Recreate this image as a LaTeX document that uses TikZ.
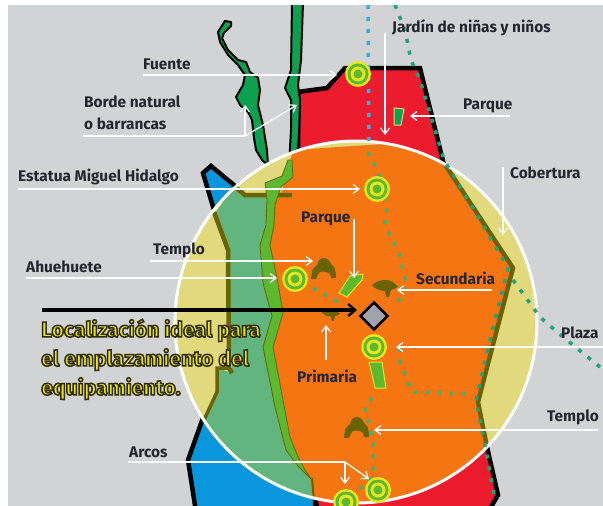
\documentclass[tikz,border=0pt]{standalone}
\usepackage{fontspec}
\setmainfont{Fira Sans}
\usetikzlibrary{arrows.meta}
\definecolor{bg}{HTML}{D1D3D5}
\definecolor{redz}{HTML}{EC1C2E}
\definecolor{orz}{HTML}{F57513}
\definecolor{yel}{HTML}{E2D97C}
\definecolor{teal1}{HTML}{62B57E}
\definecolor{blu}{HTML}{0A96DC}
\definecolor{grn}{HTML}{0DA04E}
\definecolor{lgrn}{HTML}{5CB82E}
\definecolor{oliv}{HTML}{6A6400}
\definecolor{ringy}{HTML}{E6E81E}
\definecolor{dotg}{HTML}{45B06A}
\definecolor{dott}{HTML}{1FA37A}
\definecolor{dotb}{HTML}{35AEE2}
\definecolor{txt}{HTML}{25252F}
\definecolor{dia}{HTML}{A2A2AC}
\tikzset{
 lab/.style={font=\bfseries\fontsize{15.4}{22}\selectfont,text=txt,anchor=west,inner sep=0pt},
 wire/.style={draw=white,line width=1.3pt},
 wirea/.style={wire,-{Straight Barb[length=6pt,width=9pt,line width=1.2pt]}},
 road/.style={draw=dotg,line width=3.5pt,dash pattern=on 4pt off 8pt},
 bound/.style={draw=black,line width=4.5pt,line join=miter},
 olive/.style={draw=oliv,line width=4.5pt,line join=miter},
 marker/.pic={
  \fill[ringy] (0,0) circle (13);
  \fill[lgrn] (0,0) circle (10.5);
  \fill[ringy] (0,0) circle (7.5);
  \fill[lgrn] (0,0) circle (4.5);
 }
}
\newcommand{\temple}[1]{\fill[oliv,shift={#1}] (-12,10) -- (-11,2) .. controls (-9,-2) and (-7,-3) .. (-6,-4) .. controls (-5,-9) and (-2,-11) .. (1,-11) .. controls (4,-11) and (7,-8) .. (8,-5) .. controls (11,-3) and (13,0) .. (13,9) -- (8,9) -- (7,5) .. controls (5,3) and (0,2) .. (-3,3) .. controls (-5,5) and (-6,7) .. (-7,10) -- cycle;}
\newcommand{\treeicon}[2]{\fill[oliv,shift={#1},scale=#2] (-13,-2) .. controls (-8,-6) and (-4,-7) .. (1,-7) .. controls (6,-7) and (10,-4) .. (13,0) .. controls (10,2) and (8,2) .. (6,3) -- (4,10) -- (1,10) -- (0,4) .. controls (-5,4) and (-10,2) .. (-13,-2) -- cycle;}
\begin{document}
\begin{tikzpicture}[x=1pt,y=-1pt]
\useasboundingbox (0,0) rectangle (603,506);
\fill[white] (0,0) rectangle (603,506);
\fill[bg] (8,5) rectangle (603,506);
\begin{scope}
\clip (8,5) rectangle (603,506);
% outside regions
\filldraw[fill=blu,bound] (211,166) -- (203,173) -- (214,210) -- (240,190) -- cycle;
\filldraw[fill=blu,bound] (203,418) -- (188,460) -- (196,512) -- (315,512) -- (315,440) -- cycle;
\filldraw[fill=redz,bound] (298,200) -- (298,92) -- (327,88) -- (345,68) -- (420,68) -- (444,165) -- (444,240) -- cycle;
\filldraw[fill=redz,bound] (320,530) -- (313,480) -- (487,447) -- (498,495) -- (488,512) -- cycle;
% rivers
\filldraw[fill=grn,draw=black,line width=2pt,line join=round]
 (225,21) -- (231,22) -- (231,26) -- (224,33) -- (222,38) -- (228,50) -- (238,60) -- (246,62) -- (250,72) -- (258,78) -- (260,90) -- (258,105) -- (263,125) -- (267,150) -- (268,165) -- (262,160) -- (256,150) -- (254,138) -- (252,120) -- (248,112) -- (240,105) -- (236,97) -- (243,85) -- (245,75) -- (238,65) -- (228,55) -- (220,42) -- (218,32) -- cycle;
\filldraw[fill=grn,draw=black,line width=2pt,line join=round]
 (292,3) -- (303,3) -- (301,60) -- (298,85) -- (300,100) -- (299,135) -- (296,165) -- (289,165) -- (291,130) -- (291,100) -- (285,88) -- (291,70) -- cycle;
% inside of circle
\begin{scope}
\clip (356,322) circle (181);
\fill[yel] (170,135) rectangle (540,510);
\fill[teal1] (216,212) -- (234,186) -- (245,195) -- (292,195) -- (292,165) -- (340,500) -- (320,512) -- (190,512) -- (205,418) -- (217,392) -- (217,368) -- (232,373) -- (228,250) -- cycle;
\fill[orz] (444,163) -- (513,268) -- (478,402) -- (487,447) -- (500,512) -- (315,512) -- (310,478) -- (298,457) -- (290,437) -- (273,347) -- (283,313) -- (278,283) -- (270,245) -- (275,205) -- (284,185) -- (293,150) -- (445,140) -- cycle;
\draw[olive] (214,212) -- (228,250) -- (229,368) -- (232,373);
\draw[olive,line width=3.5pt] (229,368) -- (217,368) -- (217,392) -- (204,420);
\draw[olive] (234,186) -- (245,195) -- (292,195);
\draw[olive] (444,163) -- (513,268) -- (478,402) -- (487,447);
\filldraw[fill=lgrn,draw=oliv,line width=.8pt] (292,160) -- (293,177) -- (281,187) -- (275,205) -- (274,225) -- (270,245) -- (278,283) -- (283,313) -- (273,347) -- (290,437) -- (298,457) -- (305,470) -- (312,480) -- (298,466) -- (286,450) -- (275,407) -- (263,347) -- (272,316) -- (263,283) -- (260,245) -- (266,225) -- (267,200) -- (265,183) -- (282,176) -- (288,160) -- cycle;
\draw[oliv,line width=2pt] (312,478) -- (315,512);
\fill[black] (382,141) .. controls (390,139) and (396,143) .. (400,148) .. controls (394,146) and (388,144) .. (382,143) -- cycle;
\end{scope}
\draw[white,line width=3pt] (356,322) circle (181);
% dotted roads
\draw[road,draw=dotb] (368,5) -- (369,142);
\draw[road,draw=dott] (395,5) -- (405,30) -- (411,60) -- (420,80) -- (444,160) -- (480,220) -- (508,268) -- (490,340) -- (476,400) -- (486,450) -- (495,500);
\draw[road,draw=dott] (513,280) -- (540,317) -- (557,332) -- (600,367);
\draw[road] (368,152) -- (378,172) -- (387,203) -- (385,225) -- (399,254) -- (407,286) -- (395,307);
\draw[road] (400,348) -- (399,359) -- (412,392) -- (470,394);
\draw[road] (372,398) -- (365,407) -- (373,440) -- (373,474) -- (360,489);
\draw[road] (313,288) -- (343,305);
\end{scope}
% parks
\filldraw[fill=grn,draw=yel,line width=1pt] (394,108) -- (404,109) -- (401,125) -- (394,125) -- cycle;
\filldraw[fill=lgrn,draw=ringy,line width=1pt] (339,293) -- (350,276) -- (363,274) -- (362,280) -- (347,297) -- cycle;
\filldraw[fill=lgrn,draw=ringy,line width=1pt] (369,362) -- (382,362) -- (386,388) -- (375,388) -- cycle;
% icons
\temple{(323,269)}
\temple{(356,428)}
\treeicon{(385,287)}{1}
\treeicon{(331,314)}{.7}
% diamond
\node[draw=black,fill=dia,line width=2.6pt,minimum size=19pt,inner sep=0pt,rotate=45] (ideal) at (374,316) {};
% markers
\pic at (358,74) {marker};
\pic at (377,189) {marker};
\pic at (295,279) {marker};
\pic at (374,347) {marker};
\begin{scope}
\clip (8,5) rectangle (603,506);
\pic at (378,490) {marker};
\pic at (346,502) {marker};
\end{scope}
% coordinates
\coordinate (fte) at (337,75);
\coordinate (bn1) at (245,105);
\coordinate (bn2) at (297,105);
\coordinate (bnk) at (245,136);
\coordinate (est) at (360,189);
\coordinate (tem) at (313,261);
\coordinate (ahu) at (277,278);
\coordinate (jar) at (385,135);
\coordinate (par) at (410,116);
\coordinate (cob) at (503,235);
\coordinate (pc) at (354,278);
\coordinate (sec) at (397,290);
\coordinate (pla) at (396,347);
\coordinate (pri) at (326,325);
\coordinate (te2) at (374,430);
\coordinate (ark) at (345,462);
\coordinate (ar1) at (345,484);
\coordinate (ar2) at (369,479);
% labels
\node[lab] (lfte) at (143,64) {Fuente};
\node[lab,align=left] (lbn) at (84,113) {Borde natural\\o barrancas};
\node[lab] (lest) at (18,177) {Estatua Miguel Hidalgo};
\node[lab] (ltem) at (153,250) {Templo};
\node[lab] (lahu) at (26,267) {Ahuehuete};
\node[lab] (ljar) at (392,28) {Jardín de niñas y niños};
\node[lab] (lpar) at (463,106) {Parque};
\node[lab] (lcob) at (510,173) {Cobertura};
\node[lab] (lpc) at (301,219) {Parque};
\node[lab] (lsec) at (416,278) {Secundaria};
\node[lab] (lpla) at (561,333) {Plaza};
\node[lab] (lpri) at (297,376) {Primaria};
\node[lab] (lte2) at (547,417) {Templo};
\node[lab] (larc) at (129,452) {Arcos};
\node[anchor=north west,inner sep=0pt,align=left,text=ringy,font=\bfseries\fontsize{21.2}{29}\selectfont] (lloc) at (41,319) {\special{pdf:code q 2 Tr 1.5 w 0.2 0.17 0 RG}Localización ideal para\\\special{pdf:code 2 Tr 1.5 w 0.2 0.17 0 RG}el emplazamiento del\\\special{pdf:code 2 Tr 1.5 w 0.2 0.17 0 RG}equipamiento.\special{pdf:code Q}};
% wires
\coordinate (s1) at (143,75); \draw[wirea] (s1) -- (fte);
\coordinate (s2) at (83,136); \draw[wire] (s2) -- (bnk); \draw[wirea] (bnk) -- (bn1); \draw[wirea] (bnk) -- (bn2);
\coordinate (s3) at (18,189); \draw[wirea] (s3) -- (est);
\coordinate (s4) at (150,261); \draw[wirea] (s4) -- (tem);
\coordinate (s5) at (26,278); \draw[wirea] (s5) -- (ahu);
\coordinate (s6) at (385,33); \draw[wirea] (s6) -- (jar);
\coordinate (s7) at (510,116); \draw[wirea] (s7) -- (par);
\coordinate (s8) at (503,167); \draw[wirea] (s8) -- (cob);
\coordinate (s9) at (354,219); \draw[wirea] (s9) -- (pc);
\coordinate (s10) at (492,290); \draw[wirea] (s10) -- (sec);
\coordinate (s11) at (603,347); \draw[wirea] (s11) -- (pla);
\coordinate (s12) at (326,360); \draw[wirea] (s12) -- (pri);
\coordinate (s13) at (598,430); \draw[wirea] (s13) -- (te2);
\coordinate (s14) at (128,462); \draw[wire] (s14) -- (ark); \draw[wirea] (ark) -- (ar1); \draw[wirea] (ark) -- (ar2);
\coordinate (s15) at (42,310);
\coordinate (s16) at (357,310);
\draw[black,line width=3.2pt,-{Straight Barb[length=7pt,width=12pt,line width=2.4pt]}] (s15) -- (s16);
\end{tikzpicture}
\end{document}
